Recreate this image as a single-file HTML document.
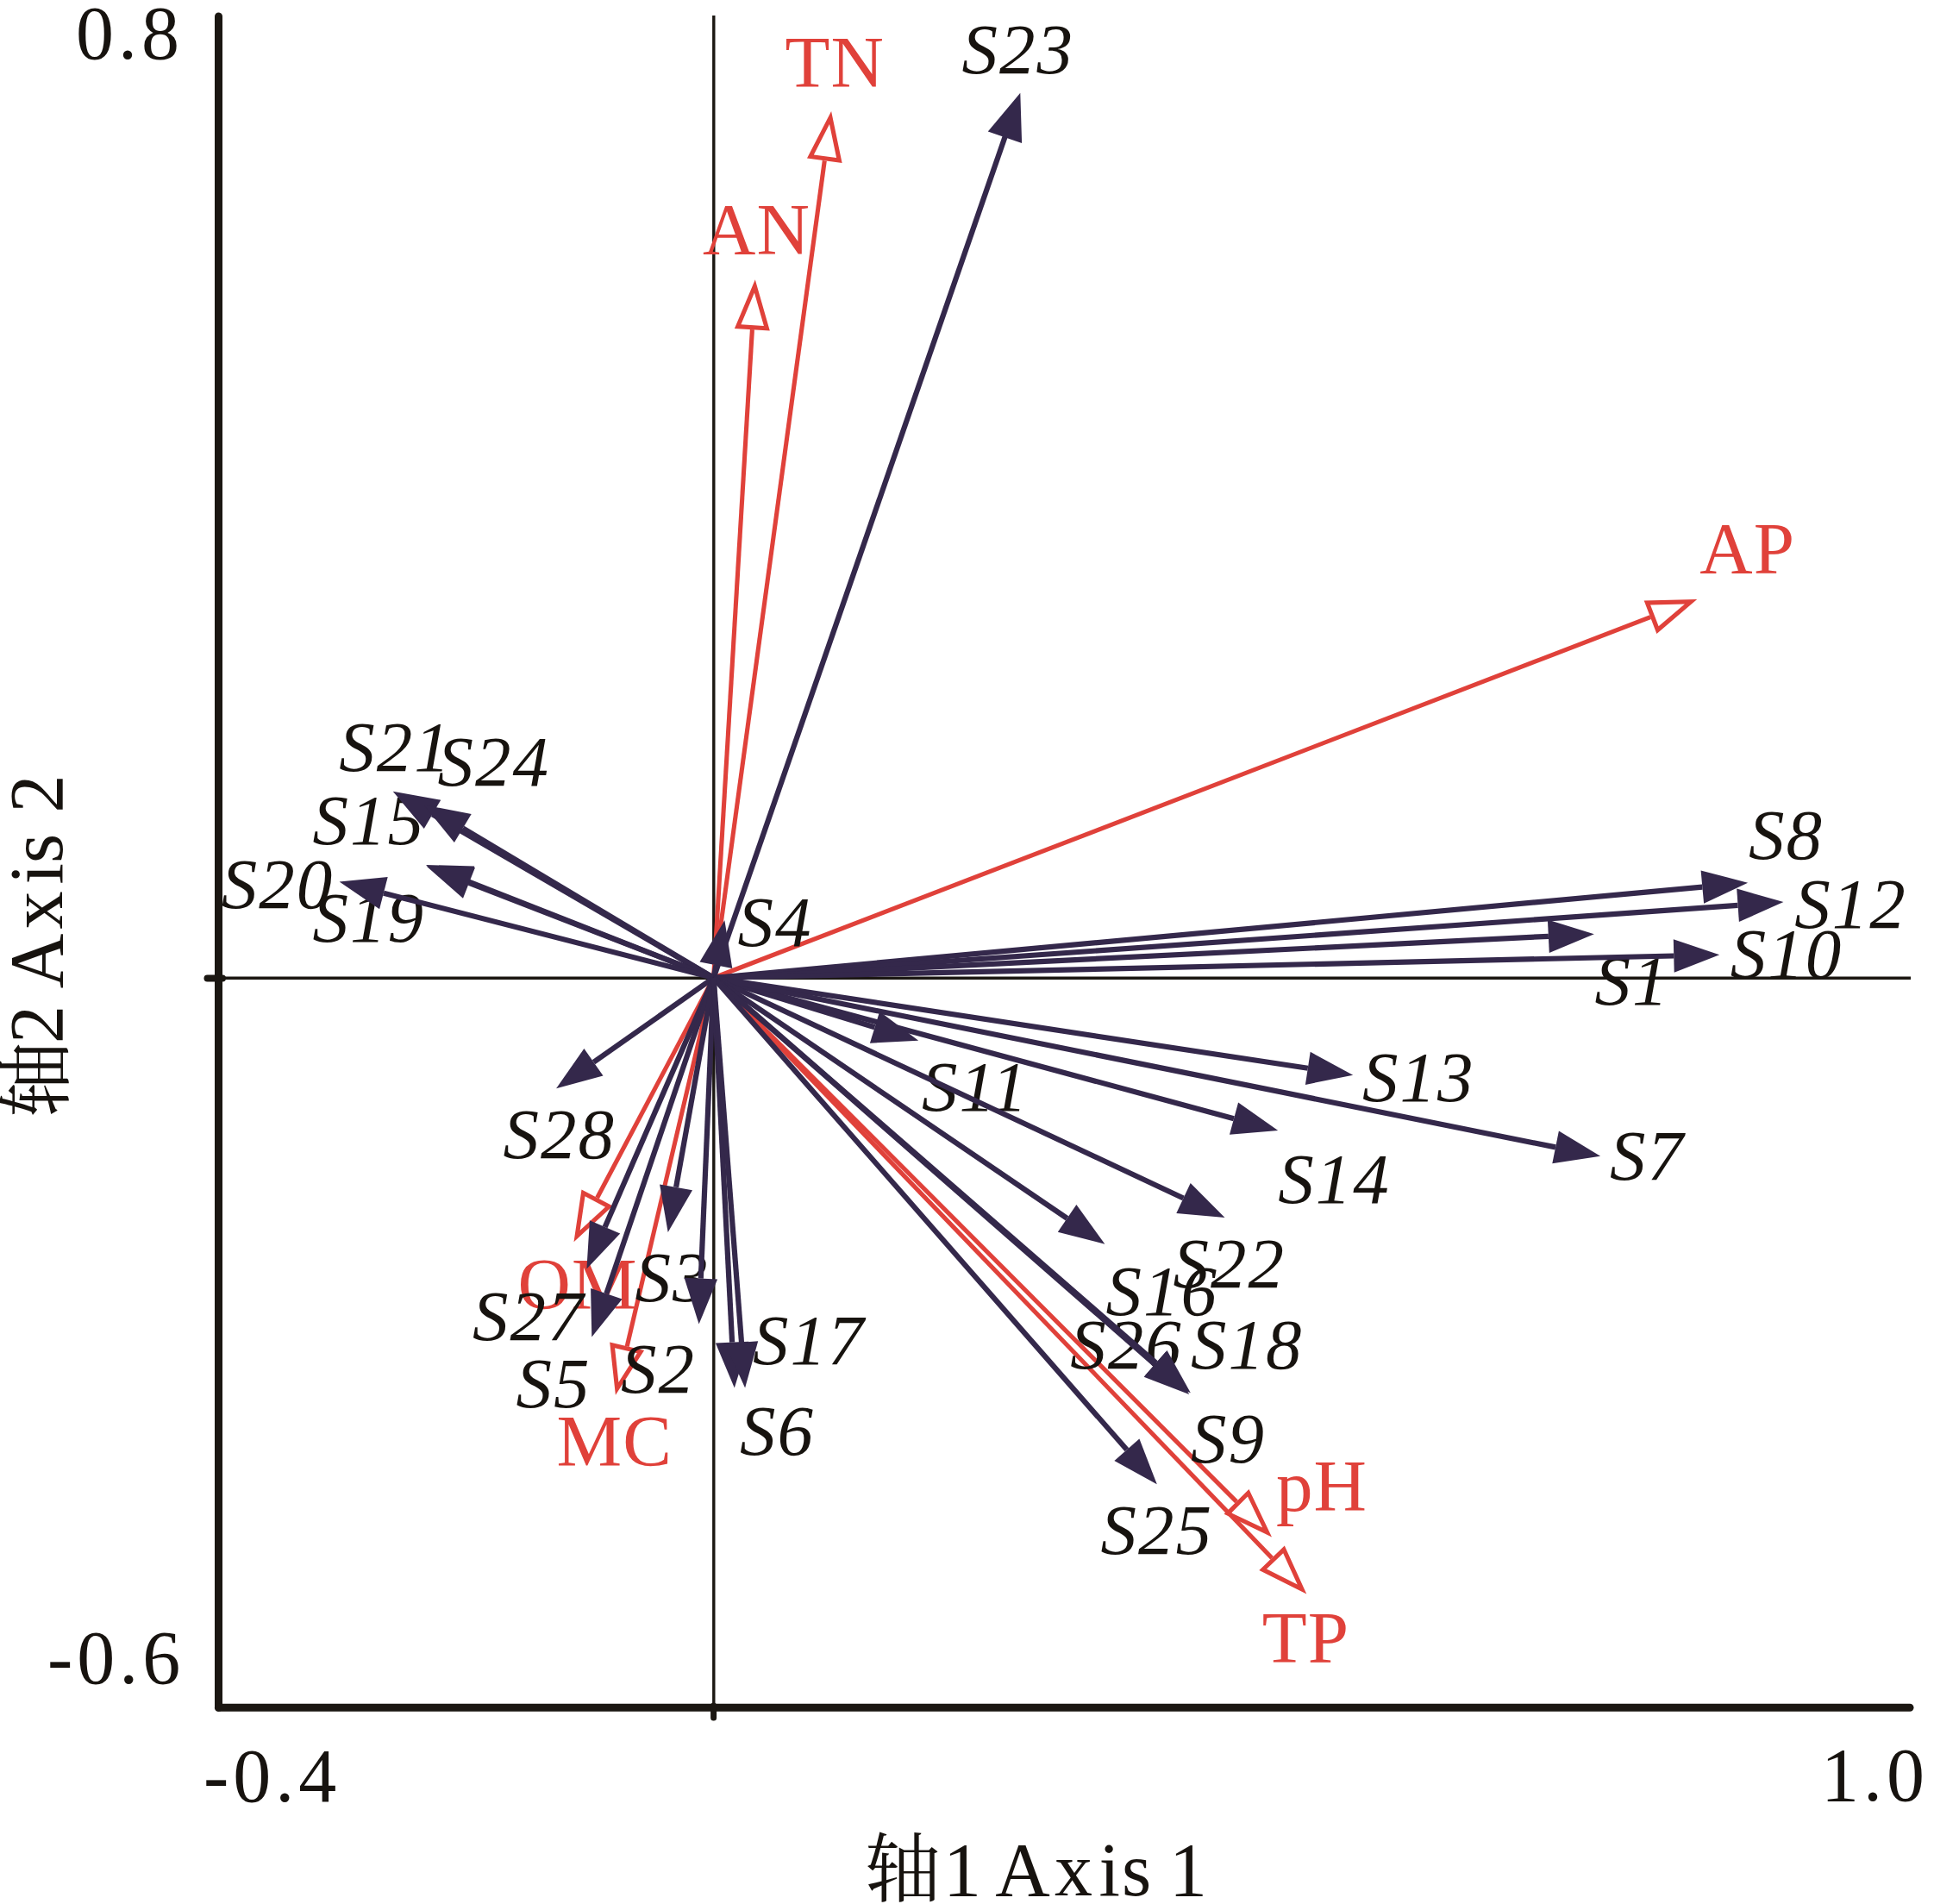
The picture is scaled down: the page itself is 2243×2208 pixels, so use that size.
<!DOCTYPE html>
<html lang="zh"><head><meta charset="utf-8"><title>RDA biplot</title>
<style>html,body{margin:0;padding:0;background:#fff}svg{display:block}text{font-family:"Liberation Serif","Noto Serif CJK SC",serif}.b{font-style:italic;font-size:83px;letter-spacing:2px;fill:#17130f}.r{font-size:85px;letter-spacing:1px;fill:#e0413a}.n{font-size:88px;letter-spacing:5px;fill:#17130f}.a{font-size:88px;fill:#17130f}</style></head><body>
<svg width="2243" height="2208" viewBox="0 0 2243 2208">
<rect width="2243" height="2208" fill="#fff"/>
<g stroke="#1b1712" stroke-linecap="round" fill="none">
<line x1="253.5" y1="19" x2="253.5" y2="1980.3" stroke-width="9"/>
<line x1="253.5" y1="1980.3" x2="2215" y2="1980.3" stroke-width="9" />
<line x1="827.8" y1="18" x2="827.8" y2="1990" stroke-width="3.4" stroke-linecap="butt"/>
<line x1="245" y1="1134.3" x2="2216" y2="1134.3" stroke-width="3.4" stroke-linecap="butt"/>
<line x1="240.5" y1="1134.5" x2="258" y2="1134.5" stroke-width="8"/>
<line x1="827.6" y1="1978" x2="827.6" y2="1992" stroke-width="7"/>
</g>
<g stroke="#e0413a" stroke-width="5.1" fill="none">
<line x1="827.6" y1="1134.0" x2="956.3" y2="186.4"/>
<line x1="827.6" y1="1134.0" x2="872.4" y2="382.2"/>
<line x1="827.6" y1="1134.0" x2="1914.1" y2="715.7"/>
<line x1="827.6" y1="1134.0" x2="692.6" y2="1389.0"/>
<line x1="827.6" y1="1134.0" x2="727.2" y2="1561.3"/>
<line x1="827.6" y1="1134.0" x2="1434.0" y2="1741.4"/>
<line x1="827.6" y1="1134.0" x2="1475.1" y2="1806.7"/>
</g>
<g fill="#e0413a" fill-rule="evenodd">
<path d="M964.1,128.9 L976.6,189.1 L936.0,183.6 Z M962.0,144.1 L970.1,183.1 L943.8,179.5 Z"/>
<path d="M875.8,324.3 L892.8,383.4 L851.9,381.0 Z M874.9,339.6 L885.9,377.9 L859.4,376.3 Z"/>
<path d="M1968.2,694.9 L1921.4,734.9 L1906.7,696.6 Z M1953.9,700.4 L1923.6,726.3 L1914.1,701.5 Z"/>
<path d="M665.5,1440.3 L674.5,1379.4 L710.7,1398.6 Z M672.7,1426.8 L678.5,1387.3 L702.0,1399.8 Z"/>
<path d="M713.9,1617.8 L707.2,1556.6 L747.1,1566.0 Z M717.4,1602.9 L713.1,1563.3 L738.9,1569.3 Z"/>
<path d="M1475.0,1782.4 L1419.5,1755.8 L1448.5,1726.9 Z M1464.2,1771.6 L1428.2,1754.4 L1447.0,1735.6 Z"/>
<path d="M1515.3,1848.5 L1460.3,1820.9 L1489.8,1792.5 Z M1504.7,1837.5 L1469.0,1819.6 L1488.2,1801.2 Z"/>
</g>
<text class="r" x="910.6" y="100.8">TN</text>
<text class="r" x="815.0" y="295.3">AN</text>
<text class="r" x="1971.3" y="665.2">AP</text>
<text class="r" x="600.6" y="1518.1">OM</text>
<text class="r" x="645.6" y="1699.7">MC</text>
<text class="r" x="1480.0" y="1751.5">pH</text>
<text class="r" x="1463.8" y="1928.0">TP</text>
<text class="b" x="1115.6" y="85.4">S23</text>
<text class="b" x="393.3" y="893.9">S21</text>
<text class="b" x="507.6" y="910.9">S24</text>
<text class="b" x="362.6" y="979.2">S15</text>
<text class="b" x="256.8" y="1052.6">S20</text>
<text class="b" x="362.6" y="1091.8">S19</text>
<text class="b" x="855.4" y="1096.7">S4</text>
<text class="b" x="2028.0" y="995.6">S8</text>
<text class="b" x="2081.2" y="1076.2">S12</text>
<text class="b" x="2006.8" y="1133.7">S10</text>
<text class="b" x="1849.6" y="1164.6">S1</text>
<text class="b" x="1068.9" y="1287.8">S11</text>
<text class="b" x="1580.0" y="1276.6">S13</text>
<text class="b" x="1482.2" y="1395.3">S14</text>
<text class="b" x="1866.9" y="1368.0">S7</text>
<text class="b" x="1360.4" y="1492.6">S22</text>
<text class="b" x="1282.4" y="1525.0">S16</text>
<text class="b" x="1241.2" y="1586.8">S26</text>
<text class="b" x="1381.0" y="1586.8">S18</text>
<text class="b" x="1381.0" y="1695.6">S9</text>
<text class="b" x="1276.5" y="1801.5">S25</text>
<text class="b" x="583.5" y="1343.4">S28</text>
<text class="b" x="736.5" y="1508.6">S3</text>
<text class="b" x="548.0" y="1553.6">S27</text>
<text class="b" x="598.6" y="1631.5">S5</text>
<text class="b" x="720.0" y="1615.0">S2</text>
<text class="b" x="873.0" y="1582.3">S17</text>
<text class="b" x="858.0" y="1687.4">S6</text>
<g stroke="#34284b" stroke-width="6.2">
<line x1="827.6" y1="1134.0" x2="1165.9" y2="157.8"/>
<line x1="827.6" y1="1134.0" x2="501.5" y2="944.3"/>
<line x1="827.6" y1="1134.0" x2="536.8" y2="960.5"/>
<line x1="827.6" y1="1134.0" x2="543.3" y2="1022.4"/>
<line x1="827.6" y1="1134.0" x2="544.0" y2="1023.8"/>
<line x1="827.6" y1="1134.0" x2="444.9" y2="1035.7"/>
<line x1="827.6" y1="1134.0" x2="830.4" y2="1119.3"/>
<line x1="827.6" y1="1134.0" x2="1974.3" y2="1028.6"/>
<line x1="827.6" y1="1134.0" x2="2015.5" y2="1049.8"/>
<line x1="827.6" y1="1134.0" x2="1795.9" y2="1085.8"/>
<line x1="827.6" y1="1134.0" x2="1941.2" y2="1108.5"/>
<line x1="827.6" y1="1134.0" x2="1014.5" y2="1191.3"/>
<line x1="827.6" y1="1134.0" x2="1516.8" y2="1238.8"/>
<line x1="827.6" y1="1134.0" x2="1431.0" y2="1297.2"/>
<line x1="827.6" y1="1134.0" x2="1804.1" y2="1330.4"/>
<line x1="827.6" y1="1134.0" x2="1372.5" y2="1389.5"/>
<line x1="827.6" y1="1134.0" x2="1237.6" y2="1412.9"/>
<line x1="827.6" y1="1134.0" x2="1340.8" y2="1580.5"/>
<line x1="827.6" y1="1134.0" x2="1339.3" y2="1582.2"/>
<line x1="827.6" y1="1134.0" x2="1306.9" y2="1681.3"/>
<line x1="827.6" y1="1134.0" x2="688.5" y2="1231.8"/>
<line x1="827.6" y1="1134.0" x2="701.6" y2="1422.9"/>
<line x1="827.6" y1="1134.0" x2="703.3" y2="1500.3"/>
<line x1="827.6" y1="1134.0" x2="784.1" y2="1376.8"/>
<line x1="827.6" y1="1134.0" x2="812.8" y2="1482.6"/>
<line x1="827.6" y1="1134.0" x2="849.1" y2="1556.7"/>
<line x1="827.6" y1="1134.0" x2="860.0" y2="1556.8"/>
</g>
<g fill="#34284b">
<polygon points="1183.3,107.7 1185.1,166.0 1145.8,152.4"/>
<polygon points="455.7,917.7 511.2,927.7 491.8,961.0"/>
<polygon points="491.3,933.3 546.7,943.9 526.9,977.0"/>
<polygon points="494.0,1003.0 550.4,1004.5 536.3,1040.3"/>
<polygon points="494.6,1004.6 551.0,1005.9 537.0,1041.7"/>
<polygon points="393.6,1022.5 449.7,1017.0 440.1,1054.3"/>
<polygon points="840.4,1067.2 849.3,1122.9 811.5,1115.6"/>
<polygon points="2027.1,1023.7 1976.1,1047.7 1972.6,1009.4"/>
<polygon points="2068.4,1046.1 2016.9,1069.0 2014.2,1030.6"/>
<polygon points="1848.8,1083.2 1796.8,1105.1 1794.9,1066.6"/>
<polygon points="1994.2,1107.3 1941.7,1127.8 1940.8,1089.3"/>
<polygon points="1065.2,1206.8 1008.9,1209.7 1020.2,1172.9"/>
<polygon points="1569.2,1246.8 1513.9,1257.9 1519.7,1219.8"/>
<polygon points="1482.2,1311.0 1426.0,1315.7 1436.1,1278.6"/>
<polygon points="1856.1,1340.8 1800.3,1349.2 1807.9,1311.5"/>
<polygon points="1420.5,1412.0 1364.3,1406.9 1380.7,1372.1"/>
<polygon points="1281.4,1442.7 1226.8,1428.8 1248.4,1397.0"/>
<polygon points="1380.8,1615.3 1328.2,1595.0 1353.5,1566.0"/>
<polygon points="1379.2,1617.1 1326.6,1596.7 1352.0,1567.7"/>
<polygon points="1341.8,1721.2 1292.4,1694.0 1321.4,1668.6"/>
<polygon points="645.1,1262.3 677.4,1216.1 699.5,1247.6"/>
<polygon points="680.4,1471.5 683.9,1415.2 719.2,1430.6"/>
<polygon points="686.3,1550.5 685.1,1494.1 721.6,1506.5"/>
<polygon points="774.7,1429.0 765.1,1373.4 803.0,1380.2"/>
<polygon points="810.6,1535.6 793.6,1481.8 832.1,1483.5"/>
<polygon points="851.8,1609.6 829.9,1557.6 868.3,1555.7"/>
<polygon points="864.1,1609.6 840.9,1558.2 879.2,1555.3"/>
</g>
<text class="n" x="88" y="68">0.8</text>
<text class="n" x="55" y="1951.6">-0.6</text>
<text class="n" x="236" y="2088.6">-0.4</text>
<text class="n" x="2112" y="2087.5">1.0</text>
<text class="a" y="2198"><tspan x="1003">轴</tspan><tspan x="1094">1</tspan> <tspan x="1154.2 1223 1274.6 1301">Axis</tspan> <tspan x="1356">1</tspan></text>
<text class="a" transform="translate(72.4,1296) rotate(-90)" y="0"><tspan x="0">轴</tspan><tspan x="86">2</tspan> <tspan x="149.8 218.4 270.4 295.1">Axis</tspan> <tspan x="353.5">2</tspan></text>
</svg></body></html>
